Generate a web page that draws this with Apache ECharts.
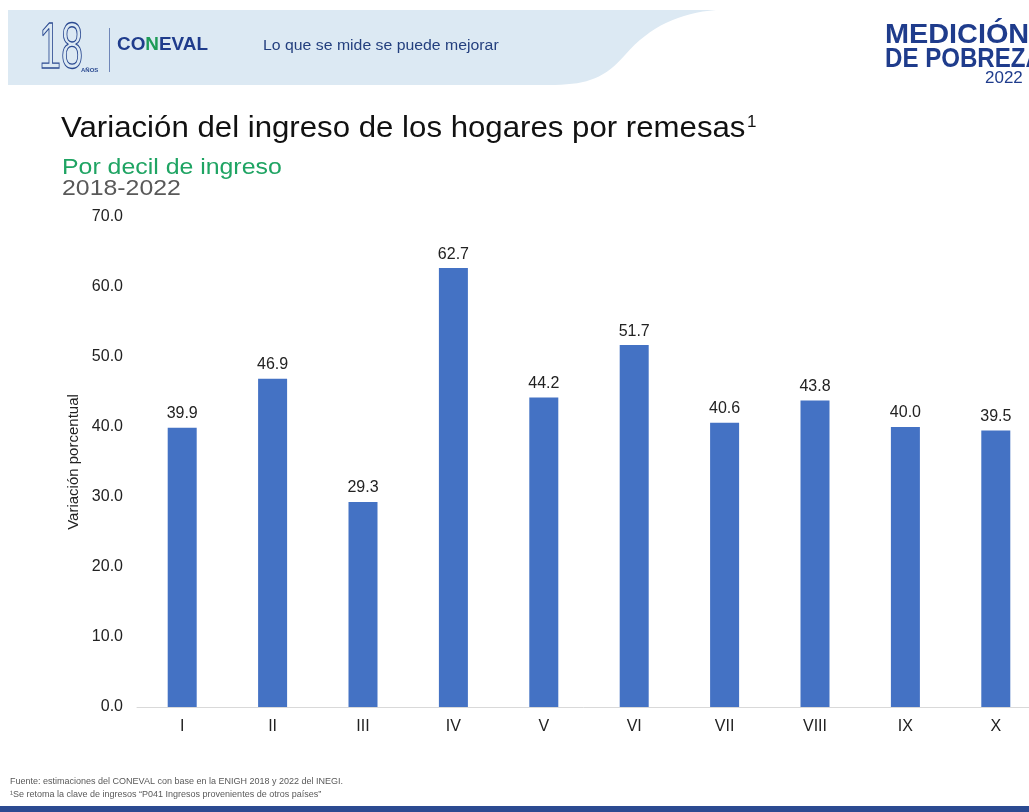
<!DOCTYPE html>
<html>
<head>
<meta charset="utf-8">
<script src="https://cdn.jsdelivr.net/npm/echarts@6/dist/echarts.min.js"></script>
<style>
  html, body { margin: 0; padding: 0; background: #fff; }
  #chart { width: 1029px; height: 812px; }
</style>
</head>
<body>
<div id="chart"></div>
<script>
var deciles = ['I', 'II', 'III', 'IV', 'V', 'VI', 'VII', 'VIII', 'IX', 'X'];
var variacion = [39.9, 46.9, 29.3, 62.7, 44.2, 51.7, 40.6, 43.8, 40.0, 39.5];

var chart = echarts.init(document.getElementById('chart'));
var font = "'Liberation Sans', Arial, sans-serif";
var navy = '#1f3c8c';

// contorno de la banda del encabezado (curva al final)
function bezier(p0, p1, p2, p3, n) {
    var pts = [];
    for (var i = 0; i <= n; i++) {
        var t = i / n, u = 1 - t;
        pts.push([
            u * u * u * p0[0] + 3 * u * u * t * p1[0] + 3 * u * t * t * p2[0] + t * t * t * p3[0],
            u * u * u * p0[1] + 3 * u * u * t * p1[1] + 3 * u * t * t * p2[1] + t * t * t * p3[1]
        ]);
    }
    return pts;
}
var bandPts = [[8, 10], [716, 10]]
    .concat(bezier([716, 10], [680, 13], [650, 26], [625, 55], 16))
    .concat(bezier([625, 55], [605, 78], [588, 84], [555, 85], 16))
    .concat([[8, 85]]);

// texto con estiramiento horizontal (la diapositiva original está algo ensanchada)
function txt(x, y, text, css, color, sx) {
    return {
        type: 'text', x: x, y: y, scaleX: sx || 1,
        style: { text: text, font: css, fill: color, verticalAlign: 'top', align: 'left' }
    };
}

var option = {
    backgroundColor: '#ffffff',
    textStyle: { fontFamily: font },
    animation: false,
    grid: { left: 137, top: 217, width: 904, height: 490, outerBoundsMode: 'none', containLabel: false },
    xAxis: {
        type: 'category',
        data: deciles,
        axisLine: { lineStyle: { color: '#d9d9d9', width: 1 } },
        axisTick: { show: false },
        axisLabel: { color: '#222', fontSize: 16, margin: 12, fontFamily: font }
    },
    yAxis: {
        type: 'value',
        min: 0,
        max: 70,
        interval: 10,
        name: 'Variación porcentual',
        nameLocation: 'middle',
        nameGap: 53,
        nameTextStyle: { color: '#222', fontSize: 15, fontFamily: font },
        axisLine: { show: false },
        axisTick: { show: false },
        splitLine: { show: false },
        axisLabel: {
            color: '#222', fontSize: 16, margin: 14, fontFamily: font,
            formatter: function (v) { return v.toFixed(1); }
        }
    },
    series: [{
        type: 'bar',
        data: variacion,
        barWidth: 29,
        itemStyle: { color: '#4472c4' },
        label: {
            show: true,
            position: 'top',
            distance: 6,
            color: '#222',
            fontSize: 16,
            fontFamily: font,
            formatter: function (p) { return p.value.toFixed(1); }
        }
    }],
    graphic: [
        {
            type: 'polygon',
            shape: { points: bandPts },
            style: { fill: '#dce9f3' },
            z: 0
        },
        {
            type: 'text', x: 39, y: 18, scaleX: 0.62,
            style: {
                text: '18', font: '200 64px ' + font, verticalAlign: 'top',
                fill: 'rgba(0,0,0,0)', stroke: '#2b4a91', lineWidth: 1.3
            }
        },
        txt(81, 67, 'AÑOS', 'bold 6px ' + font, '#2b4a91'),
        {
            type: 'rect', shape: { x: 109, y: 28, width: 1, height: 44 },
            style: { fill: '#6f86b8' }
        },
        {
            type: 'text', x: 117, y: 36, scaleX: 1.05,
            style: {
                text: '{b|CO}{g|N}{b|EVAL}', verticalAlign: 'top',
                rich: {
                    b: { font: '900 18px ' + font, fill: navy },
                    g: { font: '900 18px ' + font, fill: '#1e9b57' }
                }
            }
        },
        txt(263, 39, 'Lo que se mide se puede mejorar', '14px ' + font, '#233f7e', 1.13),
        txt(885, 21, 'MEDICIÓN', 'bold 28px ' + font, navy, 1.03),
        txt(885, 45, 'DE POBREZA', 'bold 28px ' + font, navy, 0.86),
        txt(985, 70, '2022', '17px ' + font, navy),
        // títulos
        txt(61, 114, 'Variación del ingreso de los hogares por remesas', '30px ' + font, '#111', 1.04),
        txt(747, 114, '1', '17px ' + font, '#111'),
        txt(62, 157, 'Por decil de ingreso', '22px ' + font, '#1fa463', 1.13),
        txt(62, 178, '2018-2022', '22px ' + font, '#595959', 1.13),
        // fuente
        txt(10, 777, 'Fuente: estimaciones del CONEVAL con base en la ENIGH 2018 y 2022 del INEGI.',
            "9px 'Liberation Sans Narrow', 'Liberation Sans', sans-serif", '#595959'),
        txt(10, 790, '¹Se retoma la clave de ingresos “P041 Ingresos provenientes de otros países”',
            "9px 'Liberation Sans Narrow', 'Liberation Sans', sans-serif", '#595959'),
        {
            type: 'rect', shape: { x: 0, y: 806, width: 1029, height: 6 },
            style: { fill: '#2b4a91' }
        }
    ]
};

chart.setOption(option);
</script>
</body>
</html>
